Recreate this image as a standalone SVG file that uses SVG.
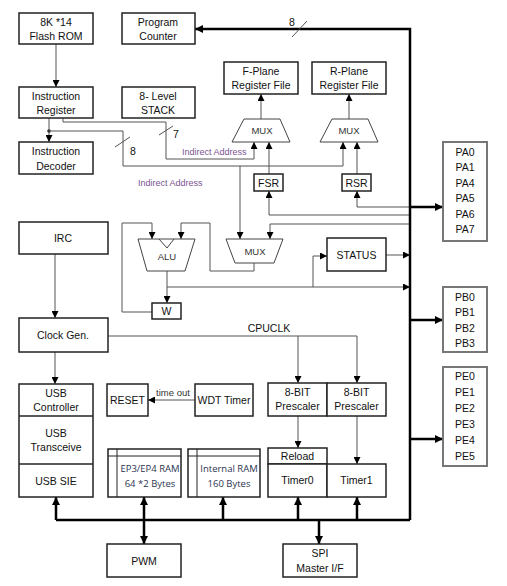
<svg xmlns="http://www.w3.org/2000/svg" width="507" height="586" viewBox="0 0 507 586">
<defs>
<marker id="a" viewBox="0 0 10 10" refX="10" refY="5" markerWidth="7" markerHeight="7" markerUnits="userSpaceOnUse" orient="auto-start-reverse"><path d="M0,0 L10,5 L0,10 z" fill="#000"/></marker>
<marker id="b" viewBox="0 0 10 10" refX="10" refY="5" markerWidth="8" markerHeight="8" markerUnits="userSpaceOnUse" orient="auto-start-reverse"><path d="M0,0 L10,5 L0,10 z" fill="#000"/></marker>
<style>
.bx{fill:#fff;stroke:#222;stroke-width:1.5}
.io{fill:#fff;stroke:#777;stroke-width:2}
.t{font-family:"Liberation Sans",Arial,sans-serif;font-size:10.5px;fill:#111;text-anchor:middle}
.s{font-family:"Liberation Sans",Arial,sans-serif;font-size:9.5px;fill:#333;text-anchor:middle}
.c{font-family:"Open Sans","Liberation Sans",sans-serif;font-size:9.5px;fill:#2b3550;text-anchor:middle}
.ia{font-family:"Liberation Sans",Arial,sans-serif;font-size:9px;fill:#7a5490}
.th{fill:none;stroke:#555;stroke-width:1}
.tk{fill:none;stroke:#000;stroke-width:2.5}
</style>
</defs>
<rect width="507" height="586" fill="#fff"/>

<g id="connectors">
<path class="th" d="M56,44 V87" marker-end="url(#a)"/>
<path class="th" d="M49,118 V142" marker-end="url(#a)"/>
<circle cx="49" cy="131" r="1.8" fill="#333"/>
<path class="th" d="M49,131 H123 V166 H343 V142" marker-end="url(#a)"/>
<path class="th" d="M240,166 V239" marker-end="url(#a)"/>
<path class="th" d="M63,118 V122 H166 V159 H254 V142" marker-end="url(#a)"/>
<path class="th" d="M115,147 L130,137"/>
<path class="th" d="M159,135 L173,126"/>
<path class="th" d="M261,119 V94" marker-end="url(#a)"/>
<path class="th" d="M349,119 V94" marker-end="url(#a)"/>
<path class="th" d="M269,174 V142" marker-end="url(#a)"/>
<path class="th" d="M357,174 V142" marker-end="url(#a)"/>
<path class="th" d="M410,215 H269 V191" marker-end="url(#a)"/>
<path class="th" d="M410,207 H357 V191" marker-end="url(#a)"/>
<path class="th" d="M410,224 H270 V239" marker-end="url(#a)"/>
<path class="th" d="M254,263 V271 H210 V223 H181 V239" marker-end="url(#a)"/>
<path class="th" d="M152,312 H122 V223 H152 V239" marker-end="url(#a)"/>
<path class="th" d="M167,271 V303" marker-end="url(#a)"/>
<path class="th" d="M167,287 H410" marker-end="url(#a)"/>
<path class="th" d="M313,287 V256 H327" marker-end="url(#a)"/>
<path class="th" d="M386,255 H410" marker-end="url(#a)"/>
<path class="th" d="M55,254 V318" marker-end="url(#a)"/>
<path class="th" d="M55,352 V384" marker-end="url(#a)"/>
<path class="th" d="M108,336 H357 V383" marker-end="url(#a)"/>
<path class="th" d="M298,336 V383" marker-end="url(#a)"/>
<path class="th" d="M195,400 H148" marker-end="url(#a)"/>
<path class="th" d="M298,416 V448" marker-end="url(#a)"/>
<path class="th" d="M357,416 V464" marker-end="url(#a)"/>

<path class="tk" d="M410,520 V29 H195" marker-end="url(#b)"/>
<path class="th" d="M292,37 L307,21" stroke="#333"/>
<path class="tk" d="M56,520 H410"/>
<path class="tk" d="M56,520 V497" marker-end="url(#b)"/>
<path class="tk" d="M223,520 V497" marker-end="url(#b)"/>
<path class="tk" d="M298,520 V497" marker-end="url(#b)"/>
<path class="tk" d="M357,520 V497" marker-end="url(#b)"/>
<path class="tk" d="M144,497 V544" marker-start="url(#b)" marker-end="url(#b)"/>
<path class="tk" d="M319,520 V544" marker-end="url(#b)"/>
<path class="tk" d="M410,207 H443" marker-end="url(#b)"/>
<path class="tk" d="M410,320 H443" marker-end="url(#b)"/>
<path class="tk" d="M410,439 H443" marker-end="url(#b)"/>

<text class="t" x="292" y="26">8</text>
<text class="t" x="133" y="155">8</text>
<text class="t" x="176" y="138">7</text>
<text class="ia" x="182" y="155">Indirect Address</text>
<text class="ia" x="138" y="186">Indirect Address</text>
<text class="t" x="269" y="332">CPUCLK</text>
<text class="s" x="173" y="396" font-size="10">time out</text>
</g>

<g id="flash-rom"><rect class="bx" x="19" y="13" width="74" height="31"/><text class="t" x="56" y="26">8K *14</text><text class="t" x="56" y="40">Flash ROM</text></g>
<g id="program-counter"><rect class="bx" x="122" y="13" width="73" height="31"/><text class="t" x="158" y="26">Program</text><text class="t" x="158" y="40">Counter</text></g>
<g id="instruction-register"><rect class="bx" x="19" y="87" width="74" height="31"/><text class="t" x="56" y="100">Instruction</text><text class="t" x="56" y="114">Register</text></g>
<g id="stack"><rect class="bx" x="122" y="87" width="73" height="31"/><text class="t" x="158" y="100">8- Level</text><text class="t" x="158" y="114">STACK</text></g>
<g id="instruction-decoder"><rect class="bx" x="19" y="142" width="74" height="32"/><text class="t" x="56" y="155">Instruction</text><text class="t" x="56" y="170">Decoder</text></g>
<g id="f-plane"><rect class="bx" x="224" y="62" width="74" height="32"/><text class="t" x="261" y="75">F-Plane</text><text class="t" x="261" y="89">Register File</text></g>
<g id="r-plane"><rect class="bx" x="312" y="62" width="74" height="32"/><text class="t" x="349" y="75">R-Plane</text><text class="t" x="349" y="89">Register File</text></g>
<g id="f-mux"><path d="M244,119 H280 L290,142 H232 Z" fill="#fff" stroke="#444" stroke-width="1"/><text class="s" x="262" y="134">MUX</text></g>
<g id="r-mux"><path d="M332,119 H368 L378,142 H320 Z" fill="#fff" stroke="#444" stroke-width="1"/><text class="s" x="349" y="134">MUX</text></g>
<g id="fsr"><rect class="bx" x="254" y="174" width="29" height="17"/><text class="t" x="268.5" y="186.5">FSR</text></g>
<g id="rsr"><rect class="bx" x="342" y="174" width="29" height="17"/><text class="t" x="356.5" y="186.5">RSR</text></g>
<g id="irc"><rect class="bx" x="19" y="222" width="89" height="32"/><text class="t" x="63" y="242">IRC</text></g>
<g id="alu"><path d="M138,239 H195 L185,271 H147 Z" fill="#fff" stroke="#444" stroke-width="1"/><path d="M159,239 L167,248 L174,239" fill="none" stroke="#444" stroke-width="1"/><text class="s" x="167" y="260">ALU</text></g>
<g id="mux"><path d="M226,239 H283 L274,263 H235 Z" fill="#fff" stroke="#444" stroke-width="1"/><text class="s" x="255" y="255">MUX</text></g>
<g id="status"><rect class="bx" x="327" y="238" width="59" height="33"/><text class="t" x="356.5" y="259">STATUS</text></g>
<g id="w"><rect class="bx" x="152" y="303" width="29" height="16"/><text class="t" x="166.5" y="315">W</text></g>
<g id="clock-gen"><rect class="bx" x="19" y="318" width="89" height="34"/><text class="t" x="63" y="339" font-size="11.5">Clock Gen.</text></g>
<g id="usb"><rect class="bx" x="19" y="384" width="74" height="113"/><line x1="19" y1="416" x2="93" y2="416" stroke="#222" stroke-width="1.5"/><line x1="19" y1="464" x2="93" y2="464" stroke="#222" stroke-width="1.5"/><text class="t" x="56" y="397">USB</text><text class="t" x="56" y="411">Controller</text><text class="t" x="56" y="437">USB</text><text class="t" x="56" y="451">Transceive</text><text class="t" x="56" y="485">USB SIE</text></g>
<g id="reset"><rect class="bx" x="107" y="384" width="41" height="32"/><text class="t" x="127.5" y="404">RESET</text></g>
<g id="wdt"><rect class="bx" x="195" y="384" width="58" height="32"/><text class="t" x="224" y="404">WDT Timer</text></g>
<g id="ep-ram"><rect class="bx" x="108" y="449" width="73" height="48"/><line x1="108" y1="456" x2="181" y2="456" stroke="#222" stroke-width="1"/><line x1="117" y1="449" x2="117" y2="497" stroke="#222" stroke-width="1"/><text class="c" x="150" y="472">EP3/EP4 RAM</text><text class="c" x="150" y="487">64 *2 Bytes</text></g>
<g id="internal-ram"><rect class="bx" x="188" y="449" width="72" height="48"/><line x1="188" y1="456" x2="260" y2="456" stroke="#222" stroke-width="1"/><line x1="197" y1="449" x2="197" y2="497" stroke="#222" stroke-width="1"/><text class="c" x="229" y="472">Internal RAM</text><text class="c" x="229" y="487">160 Bytes</text></g>
<g id="prescaler0"><rect class="bx" x="268" y="383" width="59" height="33"/><text class="t" x="297.5" y="396">8-BIT</text><text class="t" x="297.5" y="410">Prescaler</text></g>
<g id="prescaler1"><rect class="bx" x="327" y="383" width="59" height="33"/><text class="t" x="356.5" y="396">8-BIT</text><text class="t" x="356.5" y="410">Prescaler</text></g>
<g id="timer0"><rect class="bx" x="268" y="448" width="59" height="16"/><text class="t" x="297.5" y="460">Reload</text><rect class="bx" x="268" y="464" width="59" height="33"/><text class="t" x="297.5" y="484">Timer0</text></g>
<g id="timer1"><rect class="bx" x="327" y="464" width="59" height="33"/><text class="t" x="356.5" y="484">Timer1</text></g>
<g id="pwm"><rect class="bx" x="107" y="544" width="74" height="33"/><text class="t" x="144" y="565">PWM</text></g>
<g id="spi"><rect class="bx" x="283" y="544" width="74" height="33"/><text class="t" x="320" y="557">SPI</text><text class="t" x="320" y="572">Master I/F</text></g>
<g id="port-a"><rect class="io" x="443" y="142" width="44" height="99"/><text class="t" x="465" y="156">PA0</text><text class="t" x="465" y="171">PA1</text><text class="t" x="465" y="187">PA4</text><text class="t" x="465" y="202">PA5</text><text class="t" x="465" y="218">PA6</text><text class="t" x="465" y="233">PA7</text></g>
<g id="port-b"><rect class="io" x="443" y="287" width="44" height="65"/><text class="t" x="465" y="301">PB0</text><text class="t" x="465" y="316">PB1</text><text class="t" x="465" y="332">PB2</text><text class="t" x="465" y="347">PB3</text></g>
<g id="port-e"><rect class="io" x="443" y="367" width="44" height="99"/><text class="t" x="465" y="380">PE0</text><text class="t" x="465" y="396">PE1</text><text class="t" x="465" y="412">PE2</text><text class="t" x="465" y="428">PE3</text><text class="t" x="465" y="444">PE4</text><text class="t" x="465" y="460">PE5</text></g>
</svg>
